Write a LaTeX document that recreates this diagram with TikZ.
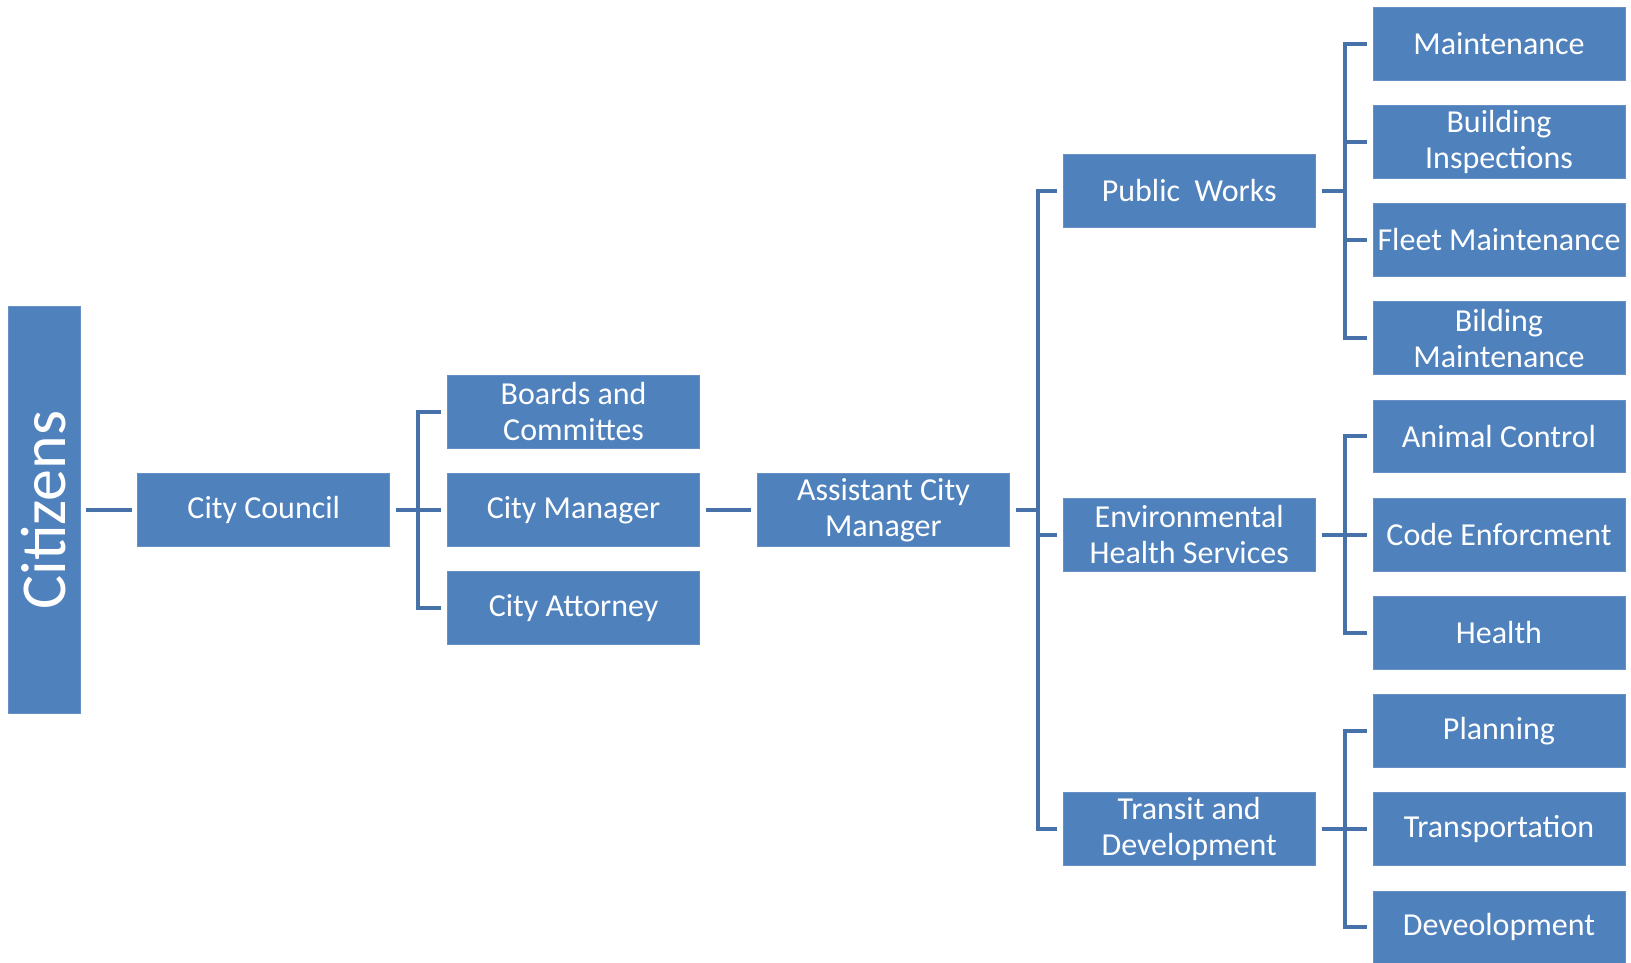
\documentclass[tikz,border=0pt]{standalone}
\usepackage{fontspec}
\setmainfont{Carlito}
\usetikzlibrary{positioning, calc}

\definecolor{boxfill}{HTML}{4F81BD}
\definecolor{boxedge}{HTML}{6690C6}
\definecolor{linkcol}{HTML}{4672A9}

\begin{document}
\begin{tikzpicture}[
  x=1pt, y=-1pt,
  node distance = 24.6pt and 57pt,
  box/.style = {
    rectangle, draw=boxedge, line width=0.8pt, fill=boxfill,
    text=white, align=center, inner sep=2pt,
    minimum width=252pt, minimum height=72.8pt,
    font=\fontsize{32}{36}\selectfont
  },
  tallbox/.style = {
    box, minimum width=72pt, minimum height=407pt,
    font=\fontsize{64}{72}\selectfont
  },
  link/.style = {
    draw=linkcol, line width=4pt
  }
]
\useasboundingbox (0,0) rectangle (1631,962);

% ====== LEAF UNITS (right column) ======
\node[box] at (1499,43.5) (maint) {Maintenance};
\node[box, below=of maint] (insp) {Building\\Inspections};
\node[box, below=of insp] (fleet) {Fleet Maintenance};
\node[box, below=of fleet] (bldmaint) {Bilding\\Maintenance};
\node[box, below=of bldmaint] (animal) {Animal Control};
\node[box, below=of animal] (code) {Code Enforcment};
\node[box, below=of code] (health) {Health};
\node[box, below=of health] (planning) {Planning};
\node[box, below=of planning] (transport) {Transportation};
\node[box, below=of transport] (devel) {Deveolopment};

% ====== DEPARTMENTS ======
\coordinate (pwmid) at ($(insp.west)!.5!(fleet.west)$);
\node[box, left=of pwmid] (works) {Public~~Works};
\node[box, left=of code] (envhealth) {Environmental\\Health Services};
\node[box, left=of transport] (transit) {Transit and\\Development};

% ====== MAIN CHAIN ======
\node[tallbox] at (44,510) (citizens) {\rotatebox{90}{Citizens}};
\node[box, right=of citizens] (council) {City Council};
\node[box, right=of council] (manager) {City Manager};
\node[box, above=of manager] (boards) {Boards and\\Committes};
\node[box, below=of manager] (attorney) {City Attorney};
\node[box, right=of manager] (asstmgr) {Assistant City\\Manager};

% ====== CONNECTORS ======
\draw[link] ([xshift=6pt]citizens.east) -- ([xshift=-5pt]council.west);
\draw[link] ([xshift=6pt]manager.east) -- ([xshift=-6pt]asstmgr.west);

% council -> its three offices
\foreach \c in {boards, manager, attorney}
  \draw[link] ([xshift=6pt]council.east) -- ++(22pt,0) |- ([xshift=-6pt]\c.west);

% assistant manager -> departments
\foreach \c in {works, envhealth, transit}
  \draw[link] ([xshift=6pt]asstmgr.east) -- ++(22pt,0) |- ([xshift=-6pt]\c.west);

% departments -> units
\foreach \c in {maint, insp, fleet, bldmaint}
  \draw[link] ([xshift=6pt]works.east) -- ++(23pt,0) |- ([xshift=-6pt]\c.west);
\foreach \c in {animal, code, health}
  \draw[link] ([xshift=6pt]envhealth.east) -- ++(23pt,0) |- ([xshift=-6pt]\c.west);
\foreach \c in {planning, transport, devel}
  \draw[link] ([xshift=6pt]transit.east) -- ++(23pt,0) |- ([xshift=-6pt]\c.west);

\end{tikzpicture}
\end{document}
